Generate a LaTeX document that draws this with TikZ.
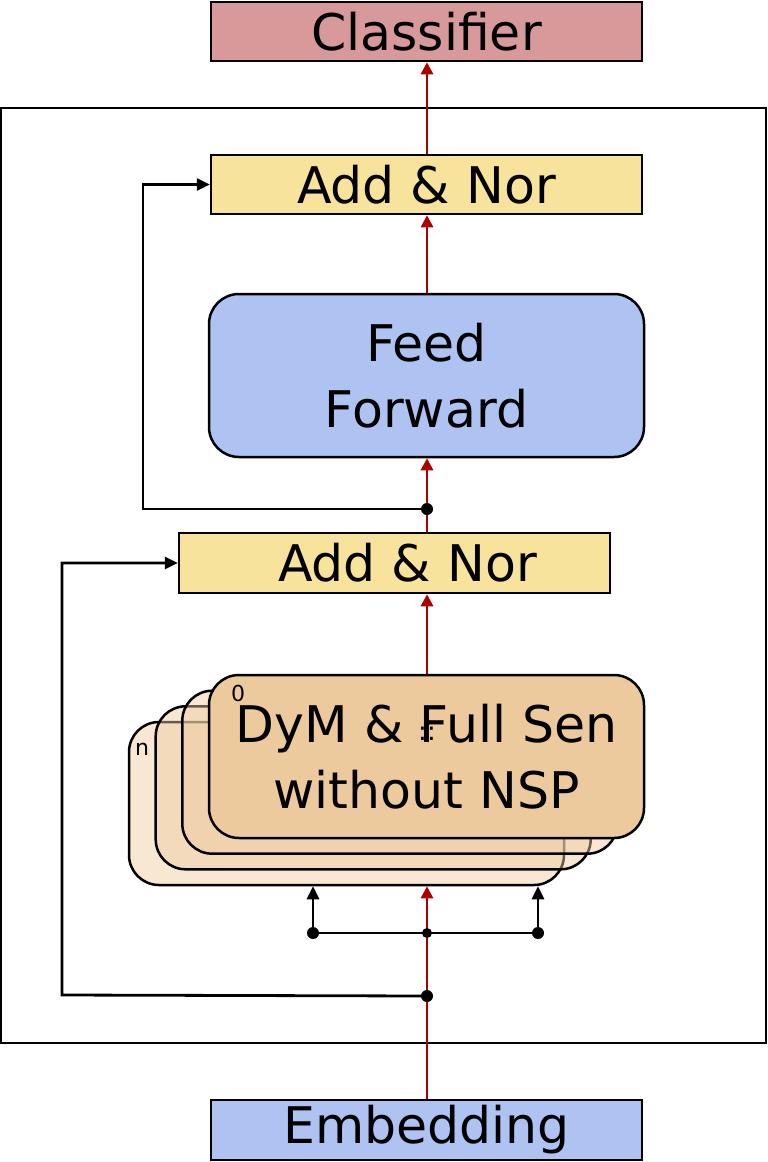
\documentclass[tikz,border=0pt]{standalone}
\usepackage{fontspec}
\setmainfont{DejaVu Sans}
\usetikzlibrary{arrows.meta}
\definecolor{clsred}{HTML}{D8999A}
\definecolor{addyel}{HTML}{F8E39D}
\definecolor{ffblue}{HTML}{AEC3F2}
\definecolor{dymor}{HTML}{EDCA9E}
\definecolor{arrred}{HTML}{AA0000}
\tikzset{
  boxstyle/.style={draw=black, line width=2.5pt, inner sep=0pt, font=\fontsize{50.5}{66}\selectfont, align=center},
  rbox/.style={boxstyle, rounded corners=30pt},
  layerbox/.style={rbox, fill=dymor, fill opacity=0.45, draw opacity=1, minimum width=435pt, minimum height=163pt},
  redarr/.style={draw=arrred, line width=2.8pt, -{Triangle[width=12pt,length=12pt]}},
  blkarr/.style={draw=black, line width=2.8pt, -{Triangle[width=12pt,length=13pt]}},
  blkline/.style={draw=black, line width=2.8pt},
  dotbig/.style={circle, fill=black, inner sep=0pt, minimum size=12pt},
  dotsmall/.style={circle, fill=black, inner sep=0pt, minimum size=10pt},
  smalllbl/.style={inner sep=0pt, font=\fontsize{22}{24}\selectfont},
}
\begin{document}
\begin{tikzpicture}[x=1pt, y=-1pt]
\useasboundingbox (0,0) rectangle (768,1162);
% outer frame
\node[draw=black, line width=2.8pt, inner sep=0pt, minimum width=765pt, minimum height=935pt] (frame) at (383.5,575.5) {};
% boxes
\node[boxstyle, fill=clsred, minimum width=431pt, minimum height=59pt] (cls) at (426.5,31.5) {Classifier};
\node[boxstyle, fill=addyel, minimum width=431pt, minimum height=59pt] (addT) at (426.5,184.5) {Add \& Nor};
\node[rbox, fill=ffblue, minimum width=435pt, minimum height=163pt] (ff) at (426.5,375.5) {Feed\\Forward};
\node[boxstyle, fill=addyel, minimum width=431pt, minimum height=60pt] (addB) at (394.5,563) {\hspace*{26pt}Add \& Nor};
\node[boxstyle, fill=ffblue, minimum width=431pt, minimum height=60pt] (emb) at (426.5,1130) {Embedding};
% stacked layers (back to front)
\node[layerbox] (l3) at (346.5,803.5) {};
\node[layerbox] (l2) at (373.2,787.8) {};
\node[layerbox] (l1) at (399.8,772.2) {};
\node[rbox, fill=dymor, minimum width=435pt, minimum height=163pt] (fr) at (426.5,756.5) {DyM \& Full Sen\\without NSP};
\node[smalllbl] (lbln) at (142,749) {n};
\node[smalllbl] (lbl0) at (238,693) {0};
\node[inner sep=0pt, font=\fontsize{26}{26}\selectfont] (vdots) at (427,734) {::};
% junction coordinates
\coordinate (d1) at (427,996);
\coordinate (d2) at (427,509);
\coordinate (d3) at (427,933);
\coordinate (d3l) at (313,933);
\coordinate (d3r) at (538,933);
\coordinate (c1) at (62,995);
\coordinate (c2) at (143,509);
% red main flow
\draw[redarr] (emb.north -| d1) -- (d1 |- l3.south);
\draw[redarr] (fr.north -| d1) -- (d1 |- addB.south);
\draw[redarr] (addB.north -| d1) -- (d1 |- ff.south);
\draw[redarr] (ff.north -| d1) -- (d1 |- addT.south);
\draw[redarr] (addT.north -| d1) -- (d1 |- cls.south);
% residual connections
\draw[blkarr] (d1) -- (c1) |- (addB.west);
\draw[blkarr] (d2) -- (c2) |- (addT.west);
% branch to layers
\draw[blkline] (d3l) -- (d3r);
\draw[blkarr] (d3l) -- (d3l |- l3.south);
\draw[blkarr] (d3r) -- (d3r |- l3.south);
% dots
\node[dotbig] (jd1) at (d1) {};
\node[dotbig] (jd2) at (d2) {};
\node[dotsmall] (jd3) at (d3) {};
\node[dotbig] (jd3l) at (d3l) {};
\node[dotbig] (jd3r) at (d3r) {};
\end{tikzpicture}
\end{document}
